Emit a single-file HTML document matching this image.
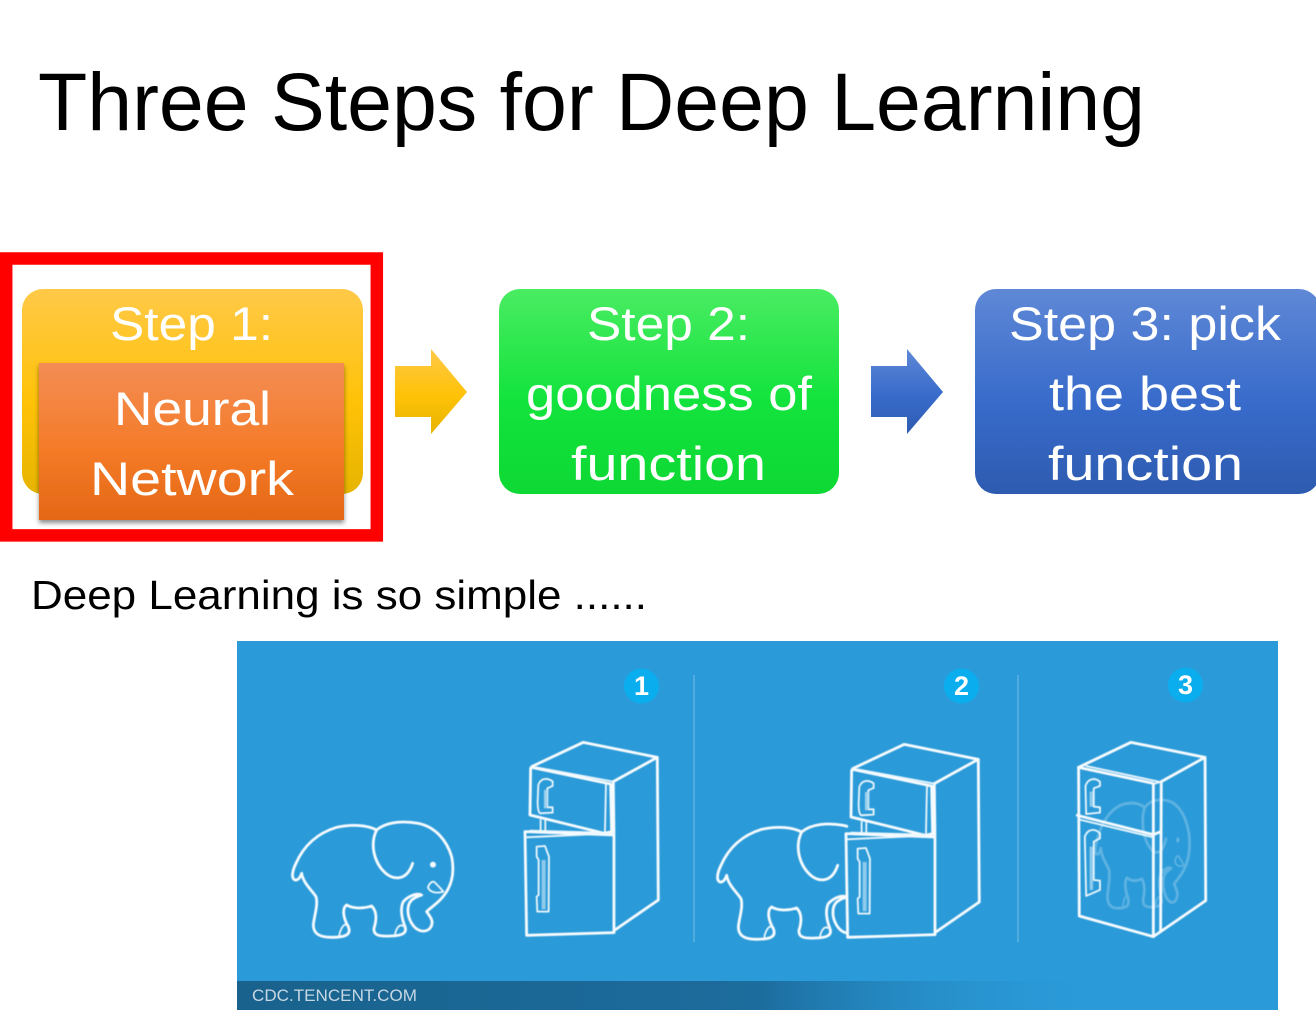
<!DOCTYPE html>
<html>
<head>
<meta charset="utf-8">
<style>
html,body{margin:0;padding:0;background:#fff;width:1316px;height:1010px;overflow:hidden}
svg{display:block}
text{font-family:"Liberation Sans",sans-serif}
.w{fill:#fff;font-size:47px}
.ln{fill:none;stroke:#f7fbfe;stroke-width:2.8px;vector-effect:non-scaling-stroke;stroke-linejoin:round;stroke-linecap:round}
.th{fill:none;stroke:#eef8fd;stroke-width:1.8px;vector-effect:non-scaling-stroke;stroke-linejoin:round;stroke-linecap:round}
</style>
</head>
<body>
<svg width="1316" height="1010" viewBox="0 0 1316 1010" xmlns="http://www.w3.org/2000/svg">
<defs>
<linearGradient id="y" x1="0" y1="0" x2="0" y2="1"><stop offset="0" stop-color="#ffc948"/><stop offset=".55" stop-color="#ffc208"/><stop offset="1" stop-color="#e6b400"/></linearGradient>
<linearGradient id="o" x1="0" y1="0" x2="0" y2="1"><stop offset="0" stop-color="#f38d55"/><stop offset=".55" stop-color="#f57b28"/><stop offset="1" stop-color="#e46716"/></linearGradient>
<linearGradient id="g" x1="0" y1="0" x2="0" y2="1"><stop offset="0" stop-color="#4aec62"/><stop offset=".55" stop-color="#12e33c"/><stop offset="1" stop-color="#0ed834"/></linearGradient>
<linearGradient id="b" x1="0" y1="0" x2="0" y2="1"><stop offset="0" stop-color="#5f88d6"/><stop offset=".55" stop-color="#386bcb"/><stop offset="1" stop-color="#2e5bb0"/></linearGradient>
<linearGradient id="ba" x1="0" y1="0" x2="1" y2="0"><stop offset="0" stop-color="#19628d"/><stop offset=".6" stop-color="#1c6c9d"/><stop offset="1" stop-color="#2a9ad8" stop-opacity="0"/></linearGradient>
<filter id="s" x="-10%" y="-10%" width="120%" height="125%"><feDropShadow dx="0" dy="3" stdDeviation="2.5" flood-color="#000" flood-opacity=".45"/></filter>
<filter id="bl" x="0" y="0" width="100%" height="100%" filterUnits="userSpaceOnUse"><feGaussianBlur stdDeviation=".45"/></filter>
<clipPath id="c2"><rect x="700" y="780" width="148" height="170"/></clipPath>

<g id="ele">
<path class="ln" d="M95,640 C92,650 85,662 75,660 C62,655 68,630 78,610 C100,560 140,520 200,502 C245,492 290,495 320,510 C350,485 400,482 445,490 C495,500 530,540 545,590 C555,640 545,685 510,720 C495,735 480,745 470,755 C480,770 495,785 480,805 C465,820 440,815 425,790 C410,765 410,735 425,720 C435,712 445,708 455,705 C440,698 415,708 400,725 C390,745 395,775 405,800 C412,820 395,828 360,828 C325,830 310,825 312,805 C320,780 322,755 305,738 C285,745 250,748 230,735 C215,745 220,775 235,800 C245,825 225,832 185,832 C150,832 130,822 130,795 C133,765 145,735 138,710 C125,690 100,670 95,640 Z"/>
<path class="ln" d="M320,510 C300,550 310,605 345,638 C370,660 410,665 428,610"/>
<circle cx="489" cy="614" r="9" fill="#f4fafd"/>
<path class="th" d="M474,682 C478,670 488,660 495,668 C505,678 515,688 520,695 C505,700 480,700 474,682 Z"/>
<path class="th" d="M208,825 C212,805 222,790 230,795 M375,825 C378,805 390,790 398,798"/>
</g>

<g id="fr">
<path class="ln" d="M785,320 L940,247 L1162,292 L1030,365 M1162,292 L1165,720 L1032,812"/>
<path class="ln" d="M1030,365 L1032,520"/>
<path class="ln" d="M785,322 L1022,372 L1025,515 L1003,520 L780,465 L782,325"/>
<path class="th" d="M800,322 L1030,365 M1008,372 L1005,515"/>
<path class="th" d="M812,480 L812,512 M826,482 L826,512"/>
<path class="ln" d="M765,515 L1032,525 L1032,818 L770,826 Z"/>
<path class="th" d="M768,532 L1030,520 M780,512 L1000,518"/>
<path class="th" d="M805,375 C812,355 830,352 848,364 L848,378 L832,385 L832,442 L848,442 L848,458 L810,460 C804,455 803,440 803,425 Z"/>
<path d="M822,390 L832,390 L832,445 L822,445 Z" fill="#9dd2ef"/>
<path class="th" d="M800,560 L825,558 L837,590 L836,755 L802,755 L800,710 L806,705 L806,600 L800,590 Z"/>
<path d="M815,600 L827,600 L827,748 L815,748 Z" fill="#8fcbec"/>
</g>
</defs>

<text x="38" y="130" font-size="82" fill="#000" textLength="1107" lengthAdjust="spacingAndGlyphs">Three Steps for Deep Learning</text>

<rect x="6.2" y="258.5" width="370.6" height="276.9" fill="#fff" stroke="#ff0000" stroke-width="12.5"/>

<rect x="22" y="289" width="341" height="205" rx="21" fill="url(#y)"/>
<rect x="39" y="363" width="305" height="157" fill="url(#o)" filter="url(#s)"/>
<text class="w" x="110" y="340" textLength="163" lengthAdjust="spacingAndGlyphs">Step 1:</text>
<text class="w" x="114" y="425" textLength="157" lengthAdjust="spacingAndGlyphs">Neural</text>
<text class="w" x="90" y="495" textLength="204" lengthAdjust="spacingAndGlyphs">Network</text>

<path d="M395,366 H431 V349 L467,392 L431,434 V417 H395 Z" fill="url(#y)"/>

<rect x="499" y="289" width="340" height="205" rx="21" fill="url(#g)"/>
<text class="w" x="587" y="340" textLength="163" lengthAdjust="spacingAndGlyphs">Step 2:</text>
<text class="w" x="526" y="410" textLength="286" lengthAdjust="spacingAndGlyphs">goodness of</text>
<text class="w" x="571" y="480" textLength="195" lengthAdjust="spacingAndGlyphs">function</text>

<path d="M871,366 H907 V349 L943,392 L907,434 V417 H871 Z" fill="url(#b)"/>

<rect x="975" y="289" width="345" height="205" rx="21" fill="url(#b)"/>
<text class="w" x="1009" y="340" textLength="272" lengthAdjust="spacingAndGlyphs">Step 3: pick</text>
<text class="w" x="1049" y="410" textLength="192" lengthAdjust="spacingAndGlyphs">the best</text>
<text class="w" x="1048" y="480" textLength="195" lengthAdjust="spacingAndGlyphs">function</text>

<text x="31" y="609" font-size="41" fill="#000" textLength="616" lengthAdjust="spacingAndGlyphs">Deep Learning is so simple ......</text>

<!-- picture -->
<rect x="237" y="641" width="1041" height="369" fill="#2a9ad8"/>
<rect x="237" y="981" width="870" height="29" fill="url(#ba)"/>
<text x="252" y="1001" font-size="17" fill="#c6d8e4" textLength="165" lengthAdjust="spacingAndGlyphs">CDC.TENCENT.COM</text>
<rect x="693" y="675" width="2" height="267" fill="#fff" opacity=".18"/>
<rect x="1017" y="675" width="2" height="267" fill="#fff" opacity=".18"/>

<circle cx="641.5" cy="686" r="17.5" fill="#0aaeef"/>
<circle cx="961.5" cy="686" r="17.5" fill="#0aaeef"/>
<circle cx="1185.5" cy="685" r="17.5" fill="#0aaeef"/>
<g fill="#fff" font-weight="bold" font-size="27" text-anchor="middle">
<text x="641.5" y="695">1</text>
<text x="961.5" y="695">2</text>
<text x="1185.5" y="694">3</text>
</g>

<g filter="url(#bl)">
<!-- panel 1 -->
<use href="#ele" transform="translate(270,660) scale(.3333)"/>
<use href="#fr" transform="translate(270,660) scale(.3333)"/>

<!-- panel 2 -->
<g clip-path="url(#c2)"><use href="#ele" transform="translate(695,662) scale(.3333)"/></g>
<use href="#fr" transform="translate(591,662) scale(.3333)"/>

<!-- panel 3 -->
<use href="#ele" transform="translate(1082,798) scale(.196,.313) translate(0,-480)" opacity=".25"/>
<g transform="translate(690,660) scale(.3445,.3333)">
<path class="ln" d="M1128,322 L1280,247 L1495,292 L1368,365 M1495,292 L1497,722 L1345,830"/>
<path class="ln" d="M1128,322 L1345,370 L1345,830 L1130,768 Z"/>
<path class="ln" d="M1368,365 L1366,815"/>
<path class="th" d="M1150,318 L1360,365 M1345,372 L1368,365"/>
<path class="ln" d="M1124,466 L1345,524 L1366,515"/>
<path class="th" d="M1128,478 L1345,532"/>
<path class="th" d="M1148,378 C1155,355 1175,352 1190,365 L1190,378 L1172,385 L1172,440 L1190,442 L1190,458 L1150,462 Z"/>
<path class="th" d="M1146,530 C1155,505 1175,505 1190,520 L1190,535 L1172,545 L1172,660 L1190,662 L1190,690 L1150,708 Z"/>
<path d="M1160,395 L1170,395 L1170,440 L1160,440 Z M1160,560 L1170,560 L1170,690 L1160,690 Z" fill="#8fcbec"/>
</g>
</g>
</svg>
</body>
</html>
